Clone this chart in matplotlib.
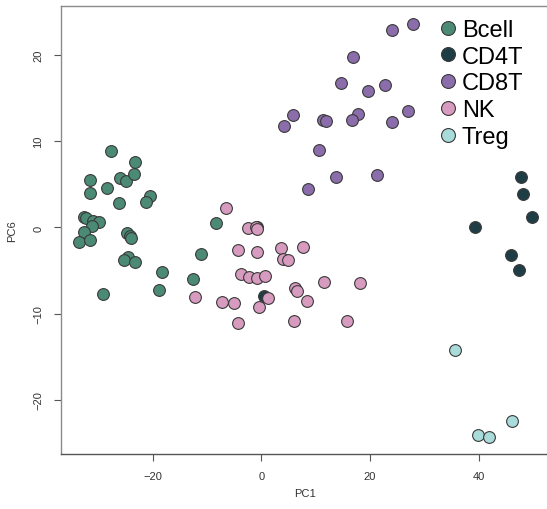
import numpy as np
import matplotlib
matplotlib.use("Agg")
import matplotlib.pyplot as plt
from matplotlib.lines import Line2D

plt.rcParams['font.family'] = ['Liberation Sans', 'DejaVu Sans']

# PC1 / PC6 scores per cell type
bcell_x = [-27.7, -23.2, -31.6, -26.0, -24.9, -23.5, -28.3, -31.5, -26.2, -20.5,
           -21.2, -32.6, -32.3, -30.9, -29.8, -31.2, -32.6, -33.6, -31.5, -24.7,
           -24.1, -23.9, -24.6, -25.3, -23.3, -18.3, -18.9, -29.1, -8.4, -11.1, -12.6]
bcell_y = [8.83, 7.55, 5.54, 5.74, 5.39, 6.2, 4.54, 3.96, 2.84, 3.62,
           2.99, 1.25, 1.1, 0.79, 0.67, 0.14, -0.56, -1.65, -1.48, -0.67,
           -1.02, -1.18, -3.38, -3.77, -3.96, -5.19, -7.28, -7.67, 0.49, -3.04, -5.97]

cd4t_x = [-0.8, 0.5, 47.7, 48.2, 49.9, 39.4, 45.9, 47.5]
cd4t_y = [0.1, -8.0, 5.89, 3.88, 1.18, 0.09, -3.15, -4.89]

cd8t_x = [24.1, 27.9, 16.9, 14.7, 19.6, 22.8, 5.83, 4.12, 11.4, 12.0,
          17.8, 16.7, 24.0, 27.0, 10.6, 13.8, 21.3, 8.65]
cd8t_y = [22.9, 23.6, 19.8, 16.7, 15.8, 16.5, 13.0, 11.7, 12.5, 12.3,
          13.2, 12.5, 12.2, 13.5, 8.98, 5.85, 6.12, 4.43]

nk_x = [-6.44, -2.39, -0.9, -0.7, -4.23, -0.85, 3.62, 7.67, 3.94, 4.91,
        -3.79, -2.32, -0.79, 0.74, -12.1, -7.29, -5.02, 1.23, -0.48, 6.14,
        6.57, 11.48, 18.1, 8.46, -4.23, 6.02, 15.7]
nk_y = [2.26, -0.09, 0.05, -0.2, -2.64, -2.87, -2.38, -2.26, -3.65, -3.73,
        -5.39, -5.7, -5.89, -5.58, -8.02, -8.63, -8.75, -8.17, -9.18, -6.97,
        -7.32, -6.28, -6.47, -8.48, -11.1, -10.83, -10.8]

treg_x = [35.7, 46.2, 39.8, 41.9]
treg_y = [-14.2, -22.4, -24.0, -24.3]

groups = ['Bcell', 'CD4T', 'CD8T', 'NK', 'Treg']
colors = ['#4b8a74', '#1e3d45', '#8b6dab', '#d89bc0', '#a8dbda']

W, H = 547, 510
fig = plt.figure(figsize=(W / 100, H / 100), dpi=100)
ax = fig.add_axes([60.7 / W, 55 / H, (548.8 - 60.7) / W, 448 / H])

data = [(bcell_x, bcell_y), (cd4t_x, cd4t_y), (cd8t_x, cd8t_y),
        (nk_x, nk_y), (treg_x, treg_y)]
for (x, y), c in zip(data, colors):
    ax.scatter(x, y, s=72, c=c, edgecolors='#3a3a3a', linewidths=0.8, zorder=3)

ax.set_xlim(-36.9, 52.9)
ax.set_ylim(-26.25, 25.66)
ax.set_xticks([-20, 0, 20, 40])
ax.set_yticks([-20, -10, 0, 10, 20])
ax.set_xticklabels(['\u221220', '0', '20', '40'])
ax.set_yticklabels(['\u221220', '\u221210', '0', '10', '20'], rotation=90, va='center')
ax.tick_params(length=5, width=0.8, color='#555555', labelsize=8, pad=7.5, labelcolor='#333333')

for side in ['left', 'top', 'right']:
    ax.spines[side].set_color('#8a8a8a')
ax.spines['bottom'].set_color('#555555')
for s in ax.spines.values():
    s.set_linewidth(1.0)

ax.set_xlabel('PC1', fontsize=8, color='#333333', labelpad=4.5)
ax.set_ylabel('PC6', fontsize=8, color='#333333', labelpad=12)

handles = [Line2D([], [], marker='o', linestyle='', markersize=10,
                  markerfacecolor=c, markeredgecolor='#3a3a3a', markeredgewidth=0.8)
           for c in colors]
ax.legend(handles, groups, loc='upper left', bbox_to_anchor=(439.5 / W, 1 - 20 / H),
          bbox_transform=fig.transFigure, frameon=False, fontsize=17,
          handlelength=0.75, handletextpad=0.2, labelspacing=0.2,
          borderpad=0, borderaxespad=0)

fig.savefig('out.png', dpi=100)
